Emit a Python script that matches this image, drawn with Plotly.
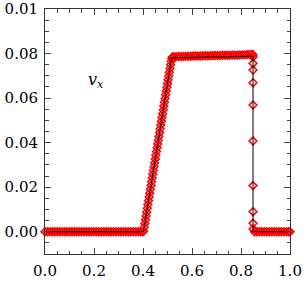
import plotly.graph_objects as go

# ---- data ----
x_left = [0.00, 0.01, 0.02, 0.03, 0.04, 0.05, 0.06, 0.07, 0.08, 0.09,
          0.10, 0.11, 0.12, 0.13, 0.14, 0.15, 0.16, 0.17, 0.18, 0.19,
          0.20, 0.21, 0.22, 0.23, 0.24, 0.25, 0.26, 0.27, 0.28, 0.29,
          0.30, 0.31, 0.32, 0.33, 0.34, 0.35, 0.36, 0.37, 0.38, 0.39, 0.40]
y_left = [0.0, 0.0, 0.0, 0.0, 0.0, 0.0, 0.0, 0.0, 0.0, 0.0,
          0.0, 0.0, 0.0, 0.0, 0.0, 0.0, 0.0, 0.0, 0.0, 0.0,
          0.0, 0.0, 0.0, 0.0, 0.0, 0.0, 0.0, 0.0, 0.0, 0.0,
          0.0, 0.0, 0.0, 0.0, 0.0, 0.0, 0.0, 0.0, 0.0, 0.0, 0.0]

x_rise = [0.4025, 0.4050, 0.4075, 0.4100, 0.4125, 0.4150, 0.4175, 0.4200,
          0.4225, 0.4250, 0.4275, 0.4300, 0.4325, 0.4350, 0.4375, 0.4400,
          0.4425, 0.4450, 0.4475, 0.4500, 0.4525, 0.4550, 0.4575, 0.4600,
          0.4625, 0.4650, 0.4675, 0.4700, 0.4725, 0.4750, 0.4775, 0.4800,
          0.4825, 0.4850, 0.4875, 0.4900, 0.4925, 0.4950, 0.4975, 0.5000,
          0.5025, 0.5050, 0.5075, 0.5100, 0.5125, 0.5150, 0.5175, 0.5200]
y_rise = [0.0003, 0.0020, 0.0037, 0.0054, 0.0071, 0.0088, 0.0105, 0.0122,
          0.0139, 0.0156, 0.0173, 0.0190, 0.0207, 0.0224, 0.0241, 0.0258,
          0.0275, 0.0292, 0.0309, 0.0326, 0.0343, 0.0360, 0.0377, 0.0394,
          0.0411, 0.0428, 0.0445, 0.0462, 0.0479, 0.0496, 0.0513, 0.0530,
          0.0547, 0.0564, 0.0581, 0.0598, 0.0615, 0.0632, 0.0649, 0.0665,
          0.0682, 0.0699, 0.0716, 0.0733, 0.0750, 0.0765, 0.0778, 0.0785]

x_plat = [0.525, 0.535, 0.545, 0.555, 0.565, 0.575, 0.585, 0.595, 0.605,
          0.615, 0.625, 0.635, 0.645, 0.655, 0.665, 0.675, 0.685, 0.695,
          0.705, 0.715, 0.725, 0.735, 0.745, 0.755, 0.765, 0.775, 0.785,
          0.795, 0.805, 0.815, 0.825, 0.835, 0.845]
y_plat = [0.0786, 0.0786, 0.0787, 0.0787, 0.0787, 0.0788, 0.0788, 0.0788, 0.0789,
          0.0789, 0.0789, 0.0789, 0.0790, 0.0790, 0.0790, 0.0790, 0.0791, 0.0791,
          0.0791, 0.0791, 0.0792, 0.0792, 0.0792, 0.0792, 0.0793, 0.0793, 0.0793,
          0.0794, 0.0794, 0.0794, 0.0795, 0.0796, 0.0797]

x_shock = [0.849, 0.849, 0.849, 0.849, 0.849, 0.849, 0.849, 0.849, 0.849, 0.849, 0.849]
y_shock = [0.0795, 0.0785, 0.0756, 0.0726, 0.0669, 0.0569, 0.0407, 0.0207, 0.0090, 0.0038, 0.0012]

x_right = [0.855, 0.865, 0.875, 0.885, 0.895, 0.905, 0.915, 0.925,
           0.935, 0.945, 0.955, 0.965, 0.975, 0.985, 0.995, 1.000]
y_right = [0.0, 0.0, 0.0, 0.0, 0.0, 0.0, 0.0, 0.0,
           0.0, 0.0, 0.0, 0.0, 0.0, 0.0, 0.0, 0.0]

x_exact = [0.0, 0.402, 0.517, 0.849, 0.849, 1.0]
y_exact = [0.0, 0.0, 0.0781, 0.0788, 0.0, 0.0]

x_ticks = [0.0, 0.2, 0.4, 0.6, 0.8, 1.0]
x_ticktext = ["0.0", "0.2", "0.4", "0.6", "0.8", "1.0"]
y_ticks = [0.0, 0.02, 0.04, 0.06, 0.08, 0.10]
y_ticktext = ["0.00", "0.02", "0.04", "0.06", "0.08", "0.01"]

label_text = "<i>v</i><sub><i>x</i></sub>"

# ---- figure ----
FONT = "DejaVu Serif"
x_num = x_left + x_rise + x_plat + x_shock + x_right
y_num = y_left + y_rise + y_plat + y_shock + y_right

fig = go.Figure()
fig.add_trace(go.Scatter(
    x=x_num, y=y_num, mode="markers", cliponaxis=False,
    marker=dict(symbol="diamond-open", size=6, color="#ff0000",
                line=dict(width=1.5, color="#ff0000")),
    showlegend=False, hoverinfo="skip"))
fig.add_trace(go.Scatter(
    x=x_exact, y=y_exact, mode="lines", cliponaxis=False,
    line=dict(color="black", width=1), showlegend=False, hoverinfo="skip"))

tick_common = dict(ticks="inside", ticklen=6, tickwidth=1, tickcolor="#444",
                   showgrid=False, zeroline=False, automargin=False)

fig.update_layout(
    width=307, height=282,
    margin=dict(l=45, r=17, t=9, b=28),
    plot_bgcolor="white", paper_bgcolor="white",
    font=dict(family=FONT, size=15, color="black"),
    xaxis=dict(range=[0, 1], tickvals=x_ticks, ticktext=x_ticktext,
               showline=True, linecolor="#333", linewidth=1, mirror=True,
               minor=dict(dtick=0.05, tick0=0, ticks="inside", ticklen=3.5, tickcolor="#444", showgrid=False),
               ticklabelstandoff=3, tickfont=dict(family=FONT, size=15, color="black"),
               **tick_common),
    yaxis=dict(range=[-0.01, 0.10], tickvals=y_ticks, ticktext=y_ticktext,
               showline=True, linecolor="#333", linewidth=1, mirror=True,
               minor=dict(dtick=0.005, tick0=0, ticks="inside", ticklen=3.5, tickcolor="#444", showgrid=False),
               ticklabelstandoff=3, tickfont=dict(family=FONT, size=15, color="black"),
               **tick_common),
    xaxis2=dict(range=[0, 1], overlaying="x", side="top", tickvals=x_ticks, showticklabels=False,
                minor=dict(dtick=0.05, tick0=0, ticks="inside", ticklen=3.5, tickcolor="#444", showgrid=False),
                **tick_common),
    yaxis2=dict(range=[-0.01, 0.10], overlaying="y", side="right", tickvals=y_ticks, showticklabels=False,
                minor=dict(dtick=0.005, tick0=0, ticks="inside", ticklen=3.5, tickcolor="#444", showgrid=False),
                **tick_common),
)
# invisible trace to activate the mirrored tick axes
fig.add_trace(go.Scatter(x=[0], y=[0], xaxis="x2", yaxis="y2", mode="markers",
                         marker=dict(opacity=0), showlegend=False, hoverinfo="skip"))

fig.add_annotation(x=0.21, y=0.0677, text=label_text, showarrow=False,
                   font=dict(family=FONT, size=16, color="black"))

fig.write_html("out.html", config={"displayModeBar": False},
               post_script="document.body.style.margin='0';")
